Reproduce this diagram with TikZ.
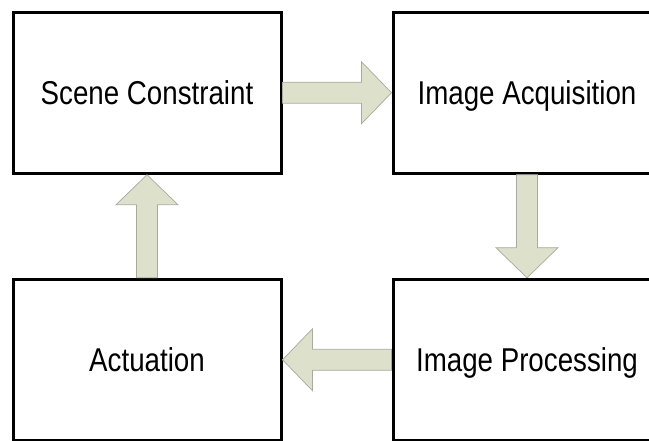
\documentclass[tikz,border=0pt]{standalone}
\usepackage{fontspec}
\setmainfont[FakeStretch=0.84]{Liberation Sans}
\usetikzlibrary{calc}
\definecolor{arrowfill}{RGB}{221,224,202}
\definecolor{arrowedge}{RGB}{168,170,158}

% broad arrow from #1 to #2
\newcommand\blockarrow[2]{%
  \path ($(#2)!30pt!(#1)$) coordinate (hb);
  \draw [flow] ($(#1)!10.5pt!90:(#2)$) -- ($(hb)!10.5pt!90:(#2)$)
    -- ($(hb)!31pt!90:(#2)$) -- (#2) -- ($(hb)!31pt!-90:(#2)$)
    -- ($(hb)!10.5pt!-90:(#2)$) -- ($(#1)!10.5pt!-90:(#2)$) -- cycle;}

\begin{document}
\begin{tikzpicture}[x=1pt,y=1pt,
  stage/.style={draw,line width=3pt,minimum width=268pt,minimum height=161pt,
    font=\fontsize{33}{40}\selectfont,text depth=0pt},
  flow/.style={draw=arrowedge,fill=arrowfill,line width=0.7pt}]
\useasboundingbox (0,0) rectangle (649,440);
\node [stage] (sc) at (147,347.25) {Scene Constraint};
\node [stage] (ia) at (527,347.25) {Image Acquisition};
\node [stage] (ip) at (527,80.25) {Image Processing};
\node [stage] (ac) at (147,80.25) {Actuation};
\blockarrow{sc.east}{ia.west}
\blockarrow{ia.south}{ip.north}
\blockarrow{ip.west}{ac.east}
\blockarrow{ac.north}{sc.south}
\end{tikzpicture}
\end{document}
